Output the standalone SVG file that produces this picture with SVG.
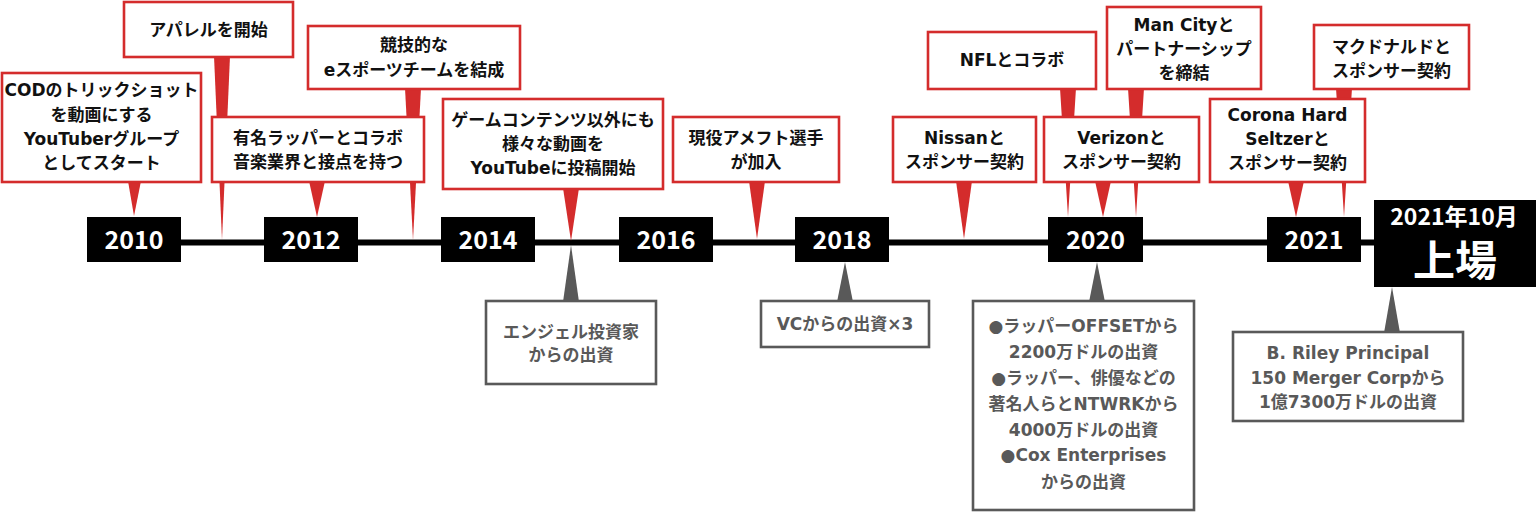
<svg xmlns="http://www.w3.org/2000/svg" width="1536" height="513" viewBox="0 0 1536 513">
<style>
.bg{fill:#ffffff}
.line{stroke:#000;stroke-width:6;fill:none}
.rp{fill:#d42c2c}
.gp{fill:#595959}
.rbox{fill:#fff;stroke:#d42c2c;stroke-width:2.6}
.gbox{fill:#fff;stroke:#595959;stroke-width:2.6}
.ybox{fill:#000}
.t{font-family:"DejaVu Sans","Noto Sans CJK JP",sans-serif;font-weight:bold;font-size:17px;fill:#111;text-anchor:middle}
.g{fill:#595959}
.yr{font-family:"Noto Sans CJK JP",sans-serif;font-weight:bold;font-size:25px;fill:#fff;text-anchor:middle}
</style>
<rect class="bg" x="0" y="0" width="1536" height="513"/>
<g id="connectors">
<line class="line" x1="181" y1="242.5" x2="1376" y2="242.5"/>
<polygon class="rp" points="128,181 141,181 134,216"/>
<polygon class="rp" points="214,56 230,56 222,240"/>
<polygon class="rp" points="309,181 325,181 317,217"/>
<polygon class="rp" points="405,88 421,88 413,240"/>
<polygon class="rp" points="563,188 579,188 571,241"/>
<polygon class="rp" points="749,181 765,181 757,239"/>
<polygon class="rp" points="956,181 972,181 964,239"/>
<polygon class="rp" points="1060,88 1076,88 1068,217"/>
<polygon class="rp" points="1128,88 1144,88 1136,217"/>
<polygon class="rp" points="1095,181 1111,181 1103,217"/>
<polygon class="rp" points="1288,181 1304,181 1296,217"/>
<polygon class="rp" points="1336,88 1352,88 1344,217"/>
<polygon class="gp" points="571,245 563,302 579,302"/>
<polygon class="gp" points="845,262 837,302 853,302"/>
<polygon class="gp" points="1097,262 1089,302 1105,302"/>
<polygon class="gp" points="1392,287 1384,333 1400,333"/>
</g>
<g id="y2010"><rect class="ybox" x="87" y="217" width="94" height="45"/><text class="yr" x="134" y="249">2010</text></g>
<g id="y2012"><rect class="ybox" x="264" y="217" width="94" height="45"/><text class="yr" x="311" y="249">2012</text></g>
<g id="y2014"><rect class="ybox" x="441" y="217" width="94" height="45"/><text class="yr" x="488" y="249">2014</text></g>
<g id="y2016"><rect class="ybox" x="619" y="217" width="94" height="45"/><text class="yr" x="666" y="249">2016</text></g>
<g id="y2018"><rect class="ybox" x="795" y="217" width="94" height="45"/><text class="yr" x="842" y="249">2018</text></g>
<g id="y2020"><rect class="ybox" x="1048" y="217" width="95" height="45"/><text class="yr" x="1095.5" y="249">2020</text></g>
<g id="y2021"><rect class="ybox" x="1267" y="217" width="94" height="45"/><text class="yr" x="1314" y="249">2021</text></g>
<g id="ipo"><rect class="ybox" x="1374" y="200" width="162" height="87"/><text class="yr" x="1454" y="225" style="font-size:23px">2021年10月</text><text class="yr" x="1455" y="276" style="font-size:42px">上場</text></g>

<g id="cod"><rect class="rbox" x="2" y="73" width="199" height="109"/><text class="t" x="101.5" y="96">CODのトリックショット</text><text class="t" x="101.5" y="120.5">を動画にする</text><text class="t" x="101.5" y="145">YouTuberグループ</text><text class="t" x="101.5" y="169">としてスタート</text></g>
<g id="apparel"><rect class="rbox" x="124" y="2" width="169" height="55"/><text class="t" x="208.5" y="36">アパレルを開始</text></g>
<g id="esports"><rect class="rbox" x="308" y="26" width="212" height="63"/><text class="t" x="414" y="51">競技的な</text><text class="t" x="414" y="76">eスポーツチームを結成</text></g>
<g id="rapper"><rect class="rbox" x="212" y="117" width="212" height="65"/><text class="t" x="318" y="144">有名ラッパーとコラボ</text><text class="t" x="318" y="168">音楽業界と接点を持つ</text></g>
<g id="videos"><rect class="rbox" x="443" y="99" width="220" height="90"/><text class="t" x="553" y="126">ゲームコンテンツ以外にも</text><text class="t" x="553" y="150">様々な動画を</text><text class="t" x="553" y="174">YouTubeに投稿開始</text></g>
<g id="nflplayer"><rect class="rbox" x="673" y="117" width="166" height="65"/><text class="t" x="756" y="144">現役アメフト選手</text><text class="t" x="756" y="168">が加入</text></g>
<g id="nissan"><rect class="rbox" x="893" y="117" width="143" height="65"/><text class="t" x="964.5" y="144">Nissanと</text><text class="t" x="964.5" y="168">スポンサー契約</text></g>
<g id="nfl"><rect class="rbox" x="928" y="32" width="168" height="57"/><text class="t" x="1012" y="66">NFLとコラボ</text></g>
<g id="mancity"><rect class="rbox" x="1107" y="7" width="154" height="82"/><text class="t" x="1184" y="31">Man Cityと</text><text class="t" x="1184" y="55">パートナーシップ</text><text class="t" x="1184" y="79">を締結</text></g>
<g id="verizon"><rect class="rbox" x="1044" y="117" width="155" height="65"/><text class="t" x="1121.5" y="144">Verizonと</text><text class="t" x="1121.5" y="168">スポンサー契約</text></g>
<g id="corona"><rect class="rbox" x="1210" y="99" width="155" height="83"/><text class="t" x="1287.5" y="121">Corona Hard</text><text class="t" x="1287.5" y="145">Seltzerと</text><text class="t" x="1287.5" y="169">スポンサー契約</text></g>
<g id="mcdonalds"><rect class="rbox" x="1314" y="25" width="155" height="64"/><text class="t" x="1391.5" y="53">マクドナルドと</text><text class="t" x="1391.5" y="77">スポンサー契約</text></g>

<g id="angel"><rect class="gbox" x="486" y="301" width="170" height="83"/><text class="t g" x="571" y="338">エンジェル投資家</text><text class="t g" x="571" y="361">からの出資</text></g>
<g id="vc"><rect class="gbox" x="761" y="301" width="168" height="46"/><text class="t g" x="845" y="330">VCからの出資×3</text></g>
<g id="funding2020"><rect class="gbox" x="973" y="301" width="221" height="209"/><text class="t g" x="1083.5" y="332">●ラッパーOFFSETから</text><text class="t g" x="1083.5" y="358">2200万ドルの出資</text><text class="t g" x="1083.5" y="384">●ラッパー、俳優などの</text><text class="t g" x="1083.5" y="410">著名人らとNTWRKから</text><text class="t g" x="1083.5" y="436">4000万ドルの出資</text><text class="t g" x="1083.5" y="461">●Cox Enterprises</text><text class="t g" x="1083.5" y="488">からの出資</text></g>
<g id="briley"><rect class="gbox" x="1233" y="332" width="230" height="89"/><text class="t g" x="1348" y="359">B. Riley Principal</text><text class="t g" x="1348" y="384">150 Merger Corpから</text><text class="t g" x="1348" y="408">1億7300万ドルの出資</text></g>
</svg>
